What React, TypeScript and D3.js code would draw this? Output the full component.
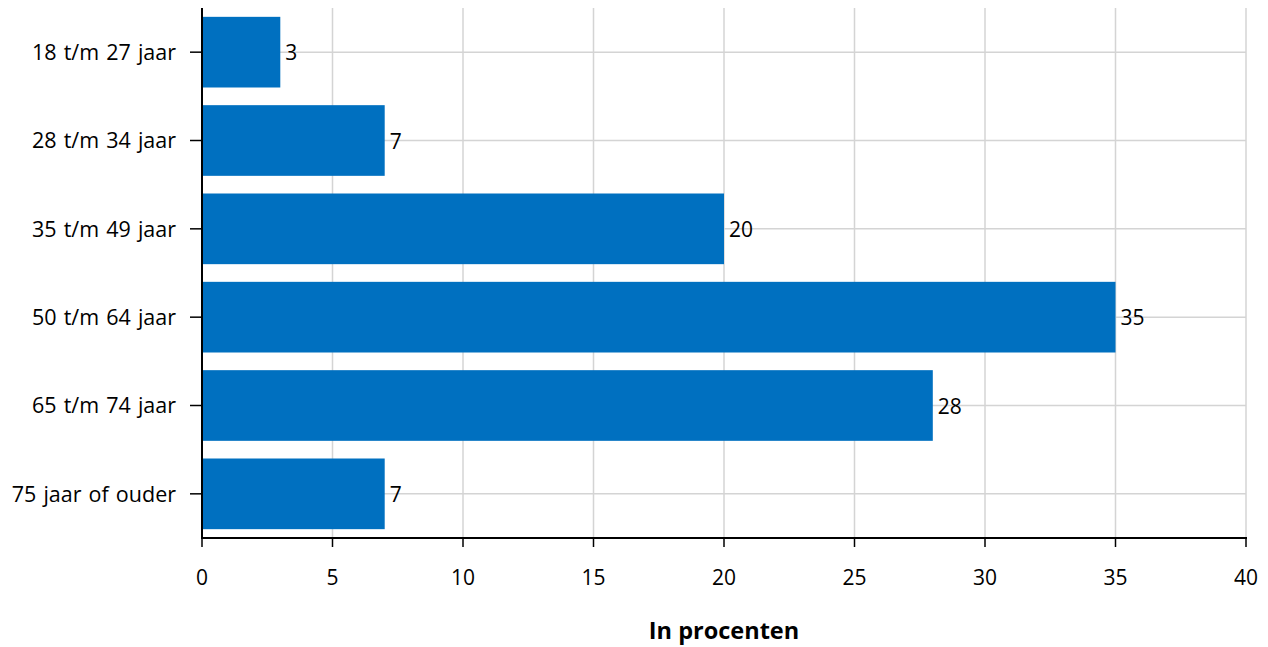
import React from "react";
import * as d3 from "d3";

const categories = ["18 t/m 27 jaar", "28 t/m 34 jaar", "35 t/m 49 jaar", "50 t/m 64 jaar", "65 t/m 74 jaar", "75 jaar of ouder"];
const values = [3, 7, 20, 35, 28, 7];
const xTicks = [0, 5, 10, 15, 20, 25, 30, 35, 40];
const xTitle = "In procenten";

export default function App() {
  const W = 1268, H = 647;
  const left = 202, right = 1246, top = 8, bottom = 538;
  const x = d3.scaleLinear().domain([0, 40]).range([left, right]);
  const y = d3.scaleBand<string>().domain(categories).range([top, bottom]).paddingInner(0.2).paddingOuter(0.1);
  const font = "'Open Sans', 'Noto Sans', sans-serif";
  const grid = "#d4d4d4";
  return (
    <svg width={W} height={H} style={{ position: "absolute", left: 0, top: 0 }} fontFamily={font}>
      {xTicks.map((t) => (
        <line key={"gv" + t} x1={x(t)} x2={x(t)} y1={top} y2={bottom} stroke={grid} strokeWidth={1.5} />
      ))}
      {categories.map((c) => (
        <line key={"gh" + c} x1={left} x2={right} y1={y(c)! + y.bandwidth() / 2} y2={y(c)! + y.bandwidth() / 2} stroke={grid} strokeWidth={1.5} />
      ))}
      {categories.map((c, i) => (
        <rect key={"b" + c} x={x(0) + 1} y={y(c)!} width={x(values[i]) - x(0) - 1} height={y.bandwidth()} fill="#0070C0" />
      ))}
      {categories.map((c, i) => (
        <text key={"v" + c} x={x(values[i]) + 5} y={y(c)! + y.bandwidth() / 2 + 2.5} dominantBaseline="middle" fontSize={21} fill="#000">
          {values[i]}
        </text>
      ))}
      {/* y axis */}
      <line x1={left} x2={left} y1={top} y2={bottom + 1} stroke="#000" strokeWidth={2} />
      {categories.map((c) => (
        <g key={"yt" + c}>
          <line x1={left - 12} x2={left} y1={y(c)! + y.bandwidth() / 2} y2={y(c)! + y.bandwidth() / 2} stroke="#000" strokeWidth={1.5} />
          <text x={left - 26} y={y(c)! + y.bandwidth() / 2 + 2} textAnchor="end" dominantBaseline="middle" fontSize={21.5} wordSpacing={1.5} fill="#000">
            {c}
          </text>
        </g>
      ))}
      {/* x axis */}
      <line x1={left - 1} x2={right + 1} y1={bottom} y2={bottom} stroke="#000" strokeWidth={2} />
      {xTicks.map((t) => (
        <g key={"xt" + t}>
          <line x1={x(t)} x2={x(t)} y1={bottom} y2={bottom + 9} stroke="#000" strokeWidth={1.5} />
          <text x={x(t)} y={bottom + 41} textAnchor="middle" dominantBaseline="middle" fontSize={21} fill="#000">
            {t}
          </text>
        </g>
      ))}
      <text x={(left + right) / 2} y={633} textAnchor="middle" dominantBaseline="middle" fontSize={23.5} fontWeight="bold" fill="#000">
        {xTitle}
      </text>
    </svg>
  );
}
